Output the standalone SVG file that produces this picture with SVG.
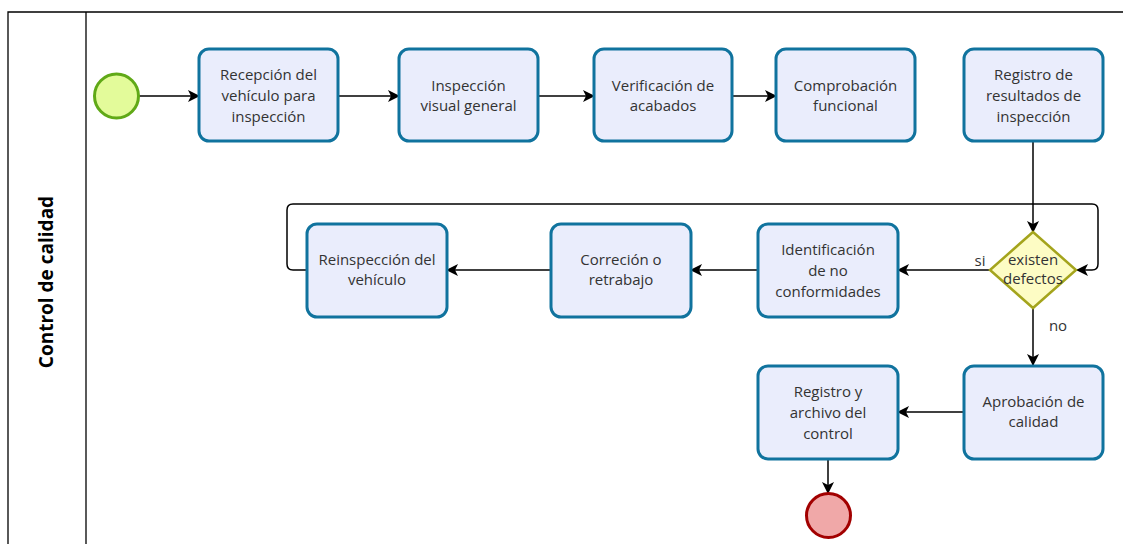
<svg xmlns="http://www.w3.org/2000/svg" width="1123" height="544" viewBox="0 0 1123 544">
  <style>
    .pool { fill: none; stroke: #000; stroke-width: 1.3; }
    .task rect { fill: #eaedfc; stroke: #10739e; stroke-width: 3; }
    .task text, .lbl { font-family: "Open Sans", "Noto Sans", sans-serif; font-size: 15px; fill: #333; text-anchor: middle; }
    .edge { fill: none; stroke: #000; stroke-width: 1.5; }
    .title { font-family: "Open Sans", "Noto Sans", sans-serif; font-size: 19px; font-weight: bold; fill: #000; text-anchor: middle; }
  </style>
  <defs>
    <marker id="arrow" viewBox="0 0 12 12" refX="11" refY="6" markerWidth="12" markerHeight="12" markerUnits="userSpaceOnUse" orient="auto">
      <path d="M0,0 L12,6 L0,12 L3,6 Z" fill="#000"/>
    </marker>
  </defs>

  <!-- pool and lane header -->
  <g id="pool">
    <path class="pool" d="M8,544 V12 H1123"/>
    <line class="pool" x1="86" y1="12" x2="86" y2="544"/>
    <text class="title" transform="translate(53,282) rotate(-90)">Control de calidad</text>
  </g>

  <!-- connectors -->
  <g id="connectors">
    <path class="edge" d="M139,96 H199" marker-end="url(#arrow)"/>
    <path class="edge" d="M338,96 H399" marker-end="url(#arrow)"/>
    <path class="edge" d="M538,96 H594" marker-end="url(#arrow)"/>
    <path class="edge" d="M732,96 H776" marker-end="url(#arrow)"/>
    <path class="edge" d="M1033,142 V232" marker-end="url(#arrow)"/>
    <path class="edge" d="M990,270 H898" marker-end="url(#arrow)"/>
    <path class="edge" d="M758,270 H691" marker-end="url(#arrow)"/>
    <path class="edge" d="M551,270 H447" marker-end="url(#arrow)"/>
    <path class="edge" d="M307,270 H293 Q287,270 287,264 V210 Q287,204 293,204 H1092 Q1098,204 1098,210 V264 Q1098,270 1092,270 H1077" marker-end="url(#arrow)"/>
    <path class="edge" d="M1033,308 V365" marker-end="url(#arrow)"/>
    <path class="edge" d="M963,412 H898" marker-end="url(#arrow)"/>
    <path class="edge" d="M828,459 V493" marker-end="url(#arrow)"/>
    <text class="lbl" x="980" y="266">si</text>
    <text class="lbl" x="1058" y="331">no</text>
  </g>

  <g id="start">
    <circle cx="116.5" cy="96" r="22" fill="#e3fb9a" stroke="#60a917" stroke-width="3"/>
  </g>

  <g id="t1" class="task">
    <rect x="199" y="49" width="139" height="92" rx="10"/>
    <text x="268.5" y="80">Recepción del</text>
    <text x="268.5" y="101">vehículo para</text>
    <text x="268.5" y="122">inspección</text>
  </g>
  <g id="t2" class="task">
    <rect x="399" y="49" width="139" height="92" rx="10"/>
    <text x="468.5" y="91">Inspección</text>
    <text x="468.5" y="111">visual general</text>
  </g>
  <g id="t3" class="task">
    <rect x="594" y="49" width="138" height="92" rx="10"/>
    <text x="663" y="91">Verificación de</text>
    <text x="663" y="111">acabados</text>
  </g>
  <g id="t4" class="task">
    <rect x="776" y="49" width="139" height="92" rx="10"/>
    <text x="845.5" y="91">Comprobación</text>
    <text x="845.5" y="111">funcional</text>
  </g>
  <g id="t5" class="task">
    <rect x="964" y="49" width="139" height="92" rx="10"/>
    <text x="1033.5" y="80">Registro de</text>
    <text x="1033.5" y="101">resultados de</text>
    <text x="1033.5" y="122">inspección</text>
  </g>

  <g id="gateway">
    <polygon points="1033,232 1076,270 1033,308 990,270" fill="#fdfcc4" stroke="#a4a41c" stroke-width="2.5"/>
    <text class="lbl" x="1033" y="265">existen</text>
    <text class="lbl" x="1033" y="284">defectos</text>
  </g>

  <g id="t6" class="task">
    <rect x="758" y="224" width="140" height="93" rx="10"/>
    <text x="828" y="255">Identificación</text>
    <text x="828" y="276">de no</text>
    <text x="828" y="297">conformidades</text>
  </g>
  <g id="t7" class="task">
    <rect x="551" y="224" width="140" height="93" rx="10"/>
    <text x="621" y="265">Correción o</text>
    <text x="621" y="285">retrabajo</text>
  </g>
  <g id="t8" class="task">
    <rect x="307" y="224" width="140" height="93" rx="10"/>
    <text x="377" y="265">Reinspección del</text>
    <text x="377" y="285">vehículo</text>
  </g>

  <g id="t9" class="task">
    <rect x="964" y="366" width="139" height="93" rx="10"/>
    <text x="1033.5" y="407">Aprobación de</text>
    <text x="1033.5" y="427">calidad</text>
  </g>
  <g id="t10" class="task">
    <rect x="758" y="366" width="140" height="93" rx="10"/>
    <text x="828" y="397">Registro y</text>
    <text x="828" y="418">archivo del</text>
    <text x="828" y="439">control</text>
  </g>

  <g id="end">
    <circle cx="828.5" cy="515.5" r="22" fill="#f0a8a8" stroke="#a20000" stroke-width="3"/>
  </g>
</svg>
